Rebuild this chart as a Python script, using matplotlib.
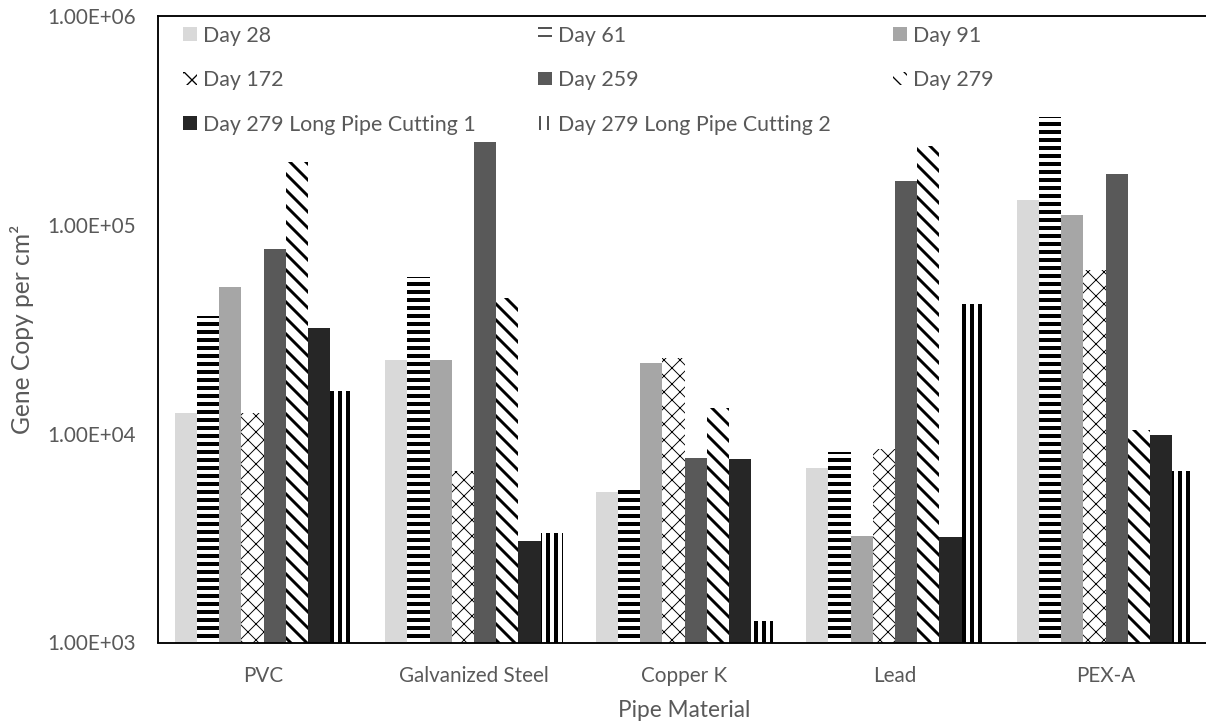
import numpy as np
import matplotlib
matplotlib.use("Agg")
import matplotlib.pyplot as plt
from matplotlib.ticker import FixedLocator, FuncFormatter, NullLocator

# Gene copy per cm2 (PVC, Galvanized Steel, Copper K, Lead, PEX-A)
materials = ["PVC", "Galvanized Steel", "Copper K", "Lead", "PEX-A"]
day28 = [12600, 22500, 5280, 6830, 132000]
day61 = [36700, 56100, 5580, 8150, 330000]
day91 = [50600, 22500, 21900, 3240, 111000]
day172 = [12600, 6630, 23000, 8420, 60600]
day259 = [76400, 250000, 7630, 162000, 176000]
day279 = [201000, 44500, 13300, 239000, 10400]
day279_cut1 = [32000, 3070, 7570, 3190, 9830]
day279_cut2 = [16000, 3360, 1270, 41800, 6620]

series = [
    ("Day 28", day28, dict(color="#D9D9D9")),
    ("Day 61", day61, dict(hatch="--", hlw=3.0)),
    ("Day 91", day91, dict(color="#A6A6A6")),
    ("Day 172", day172, dict(hatch="xx", hlw=0.7)),
    ("Day 259", day259, dict(color="#595959")),
    ("Day 279", day279, dict(hatch="\\\\", hlw=2.2)),
    ("Day 279 Long Pipe Cutting 1", day279_cut1, dict(color="#262626")),
    ("Day 279 Long Pipe Cutting 2", day279_cut2, dict(hatch="||", hlw=3.0)),
]

TEXT = "#595959"
plt.rcParams["font.family"] = ["Lato", "DejaVu Sans"]

W, H, DPI = 1206, 727, 96
fig = plt.figure(figsize=(W / DPI, H / DPI), dpi=DPI)
# plot area runs past the right edge of the picture, like the cropped original
left, right, top, bottom = 158.3, 1210.8, 16.0, 642.5
ax = fig.add_axes([left / W, 1 - bottom / H, (right - left) / W, (bottom - top) / H])

x = np.arange(len(materials))
bw = 22.2 / 210.5
handles = []
for i, (name, vals, st) in enumerate(series):
    pos = x + (i - 3.5) * bw
    if "hatch" in st:
        with plt.rc_context({"hatch.linewidth": st["hlw"]}):
            bars = ax.bar(pos, vals, bw, facecolor="white", edgecolor="black",
                          linewidth=0, hatch=st["hatch"], label=name, zorder=2)
            for p in bars:
                if hasattr(p, "set_hatch_linewidth"):
                    p.set_hatch_linewidth(st["hlw"])
    else:
        bars = ax.bar(pos, vals, bw, color=st["color"], linewidth=0,
                      label=name, zorder=2)
    handles.append(bars)

ax.set_yscale("log")
ax.set_ylim(1e3, 1e6)
ax.set_xlim(-0.5, len(materials) - 0.5)
ax.yaxis.set_major_locator(FixedLocator([1e3, 1e4, 1e5, 1e6]))
ax.yaxis.set_minor_locator(NullLocator())
ax.yaxis.set_major_formatter(FuncFormatter(lambda v, _: f"{v:.2E}"))
ax.set_xticks(x)
ax.set_xticklabels(materials)
ax.tick_params(axis="y", length=0, pad=17, labelsize=15.5, labelcolor=TEXT)
ax.tick_params(axis="x", length=0, pad=18, labelsize=15.5, labelcolor=TEXT)

for side in ["left", "top", "bottom", "right"]:
    ax.spines[side].set_linewidth(1.4)
    ax.spines[side].set_color("black")

ax.set_xlabel("Pipe Material", fontsize=17, color=TEXT, labelpad=10)
ax.set_ylabel("Gene Copy per cm²", fontsize=18.5, color=TEXT, labelpad=10)

# Excel fills the legend row by row; matplotlib fills columns, so reorder
order = [0, 3, 6, 1, 4, 7, 2, 5]
leg = ax.legend([handles[k] for k in order], [series[k][0] for k in order],
                ncol=3, loc="upper left", bbox_to_anchor=(183 / W, 1 - 25.5 / H),
                bbox_transform=fig.transFigure, frameon=False, fontsize=16,
                labelcolor=TEXT, handlelength=0.65, handleheight=0.6,
                handletextpad=0.3, columnspacing=2.9, labelspacing=1.15,
                borderpad=0, borderaxespad=0)

fig.savefig("out.png", dpi=DPI)
